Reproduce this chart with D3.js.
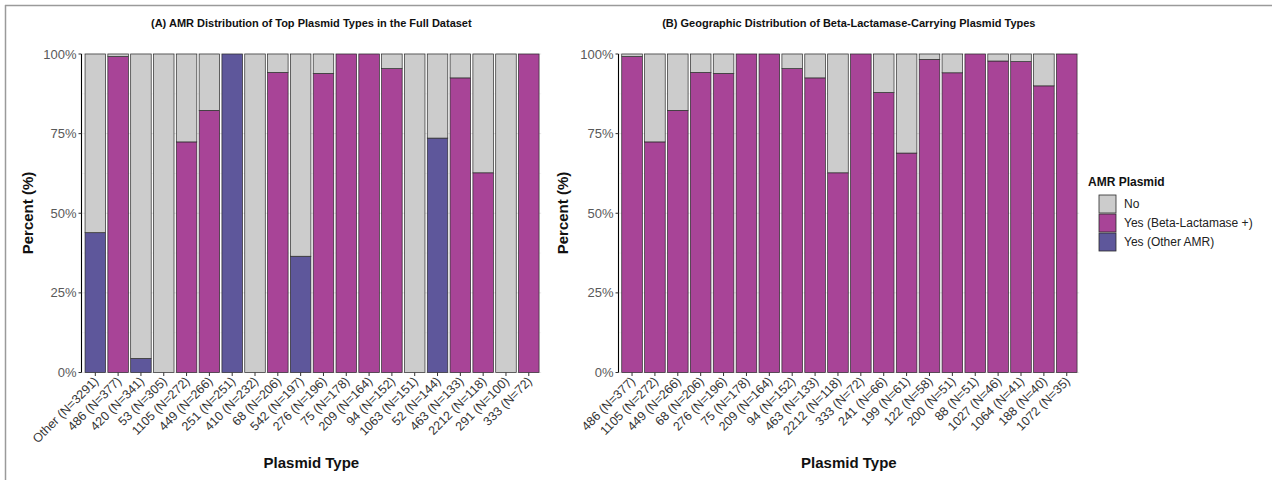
<!DOCTYPE html>
<html>
<head>
<meta charset="utf-8">
<script src="https://cdn.jsdelivr.net/npm/d3@7"></script>
<style>
  html, body { margin: 0; padding: 0; background: #fff; }
  svg { display: block; font-family: "Liberation Sans", Arial, sans-serif; }
</style>
</head>
<body>
<svg id="chart" width="1272" height="480"></svg>
<script>
// Panel A: top plasmid types across the full dataset
const catsA = ["Other", "486", "420", "53", "1105", "449", "251", "410", "68", "542",
               "276", "75", "209", "94", "1063", "52", "463", "2212", "291", "333"];
const countsA = [3291, 377, 341, 305, 272, 266, 251, 232, 206, 197,
                 196, 178, 164, 152, 151, 144, 133, 118, 100, 72];
const betaA = [0, 99.2, 0, 0, 72.4, 82.3, 0, 0, 94.2, 0,
               93.9, 100, 100, 95.4, 0, 0, 92.5, 62.7, 0, 100];
const otherA = [43.9, 0, 4.4, 0, 0, 0, 100, 0, 0, 36.5,
                0, 0, 0, 0, 0, 73.6, 0, 0, 0, 0];

// Panel B: beta-lactamase-carrying plasmid types
const catsB = ["486", "1105", "449", "68", "276", "75", "209", "94", "463", "2212",
               "333", "241", "199", "122", "200", "88", "1027", "1064", "188", "1072"];
const countsB = [377, 272, 266, 206, 196, 178, 164, 152, 133, 118,
                 72, 66, 61, 58, 51, 51, 46, 41, 40, 35];
const betaB = [99.2, 72.4, 82.3, 94.2, 93.9, 100, 100, 95.4, 92.5, 62.7,
               100, 87.9, 68.9, 98.3, 94.1, 100, 97.8, 97.6, 90.0, 100];
const otherB = new Array(catsB.length).fill(0);

const yTicks = [0, 25, 50, 75, 100];
const seriesNames = ["No", "Yes (Beta-Lactamase +)", "Yes (Other AMR)"];
const seriesColors = ["#cccccc", "#a84497", "#5e579b"];

const svg = d3.select("#chart");

// outer frame
svg.append("line").attr("x1", 5).attr("x2", 1272).attr("y1", 5.5).attr("y2", 5.5)
  .attr("stroke", "#9a9a9a").attr("stroke-width", 1.5);
svg.append("line").attr("x1", 5.5).attr("x2", 5.5).attr("y1", 5).attr("y2", 480)
  .attr("stroke", "#9a9a9a").attr("stroke-width", 1.5);

const color = d3.scaleOrdinal().domain(seriesNames).range(seriesColors);

function drawPanel(opt) {
  const { cats, counts, beta, other, axisX, range, title, ytitleX } = opt;
  const labels = cats.map((c, i) => `${c} (N=${counts[i]})`);
  const rows = cats.map((c, i) => ({
    label: labels[i],
    "Yes (Other AMR)": other[i],
    "Yes (Beta-Lactamase +)": beta[i],
    "No": Math.max(0, 100 - beta[i] - other[i])
  }));

  const x = d3.scaleBand().domain(labels).range(range).paddingInner(0.1).paddingOuter(0.05);
  const y = d3.scaleLinear().domain([0, 100]).range([372.5, 54]);
  const right = range[1] + 1;

  const g = svg.append("g");

  // grid
  const minor = d3.range(12.5, 100, 25);
  g.selectAll(".minor").data(minor).join("line")
    .attr("x1", axisX).attr("x2", right)
    .attr("y1", d => y(d)).attr("y2", d => y(d))
    .attr("stroke", "#f2f2f2").attr("stroke-width", 0.8);
  g.selectAll(".major").data(yTicks).join("line")
    .attr("x1", axisX).attr("x2", right)
    .attr("y1", d => y(d)).attr("y2", d => y(d))
    .attr("stroke", "#e6e6e6").attr("stroke-width", 1);

  // stacked bars: Other AMR at the bottom, then Beta-Lactamase, then No
  const stack = d3.stack().keys(["Yes (Other AMR)", "Yes (Beta-Lactamase +)", "No"]);
  const layers = stack(rows);
  g.selectAll(".layer").data(layers).join("g")
    .attr("fill", d => color(d.key))
    .selectAll("rect")
    .data(d => d.filter(s => s[1] - s[0] > 0))
    .join("rect")
    .attr("x", d => x(d.data.label))
    .attr("width", x.bandwidth())
    .attr("y", d => y(d[1]))
    .attr("height", d => y(d[0]) - y(d[1]))
    .attr("stroke", "#2a2a2a")
    .attr("stroke-width", 0.7);

  // y axis
  g.append("line").attr("x1", axisX).attr("x2", axisX).attr("y1", 54).attr("y2", 372.5)
    .attr("stroke", "#000").attr("stroke-width", 1.1);
  g.selectAll(".ytick").data(yTicks).join("line")
    .attr("x1", axisX - 3).attr("x2", axisX)
    .attr("y1", d => y(d)).attr("y2", d => y(d))
    .attr("stroke", "#333").attr("stroke-width", 1);
  g.selectAll(".ylab").data(yTicks).join("text")
    .attr("x", axisX - 5).attr("y", d => y(d)).attr("dy", "0.35em")
    .attr("text-anchor", "end").attr("font-size", 13).attr("fill", "#595959")
    .text(d => d + "%");

  // x ticks and rotated labels
  g.selectAll(".xtick").data(labels).join("line")
    .attr("x1", d => x(d) + x.bandwidth() / 2).attr("x2", d => x(d) + x.bandwidth() / 2)
    .attr("y1", 372.5).attr("y2", 376)
    .attr("stroke", "#333").attr("stroke-width", 1);
  g.selectAll(".xlab").data(labels).join("text")
    .attr("transform", d => `translate(${x(d) + x.bandwidth() / 2 + 4},${382}) rotate(-45)`)
    .attr("text-anchor", "end").attr("font-size", 12.5).attr("fill", "#333")
    .text(d => d);

  // titles
  const cx = (axisX + right) / 2;
  g.append("text").attr("x", cx).attr("y", 27).attr("text-anchor", "middle")
    .attr("font-size", 11).attr("font-weight", "bold").attr("fill", "#111").text(title);
  g.append("text").attr("x", cx).attr("y", 468).attr("text-anchor", "middle")
    .attr("font-size", 15).attr("font-weight", "bold").attr("fill", "#111").text("Plasmid Type");
  g.append("text").attr("transform", `translate(${ytitleX},213) rotate(-90)`)
    .attr("text-anchor", "middle").attr("font-size", 15).attr("font-weight", "bold")
    .attr("fill", "#111").text("Percent (%)");
}

drawPanel({
  cats: catsA, counts: countsA, beta: betaA, other: otherA,
  axisX: 81.5, range: [83.9, 540.2],
  title: "(A) AMR Distribution of Top Plasmid Types in the Full Dataset",
  ytitleX: 33
});
drawPanel({
  cats: catsB, counts: countsB, beta: betaB, other: otherB,
  axisX: 618.5, range: [620.6, 1078.2],
  title: "(B) Geographic Distribution of Beta-Lactamase-Carrying Plasmid Types",
  ytitleX: 568
});

// legend
const leg = svg.append("g").attr("transform", "translate(1088,0)");
leg.append("text").attr("x", 0).attr("y", 186).attr("font-size", 12).attr("font-weight", "bold")
  .attr("fill", "#111").text("AMR Plasmid");
const items = leg.selectAll(".item").data(seriesNames).join("g")
  .attr("transform", (d, i) => `translate(11,${195 + i * 19})`);
items.append("rect").attr("width", 17).attr("height", 18)
  .attr("fill", d => color(d)).attr("stroke", "#2a2a2a").attr("stroke-width", 0.8);
items.append("text").attr("x", 25).attr("y", 9).attr("dy", "0.35em")
  .attr("font-size", 12).attr("fill", "#222").text(d => d);
</script>
</body>
</html>
